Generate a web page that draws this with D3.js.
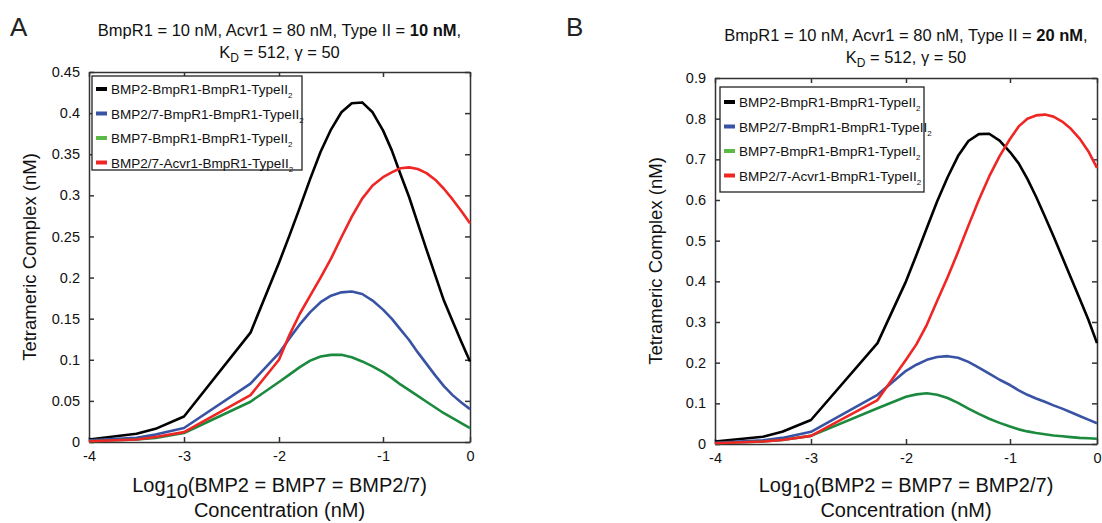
<!DOCTYPE html>
<html>
<head>
    <meta charset="utf-8">
    <title>Tetrameric Complex</title>
    <script src="https://d3js.org/d3.v7.min.js"></script>
    <style>
        body { margin: 0; background: #fff; }
        svg { font-family: "Liberation Sans", Arial, sans-serif; }
        .axis path, .axis line { stroke: #333; stroke-width: 1.5; }
        .axis text { font-size: 14.5px; fill: #111; }
    </style>
</head>
<body>
    <svg id="chart"></svg>

    <script>
        // log10 concentration grid (shared by both panels)
        const logConc = [-4, -3.5, -3.3, -3, -2.3, -2, -1.9, -1.8, -1.7, -1.6, -1.5, -1.4, -1.3, -1.2,
                         -1.1, -1.0, -0.9, -0.8, -0.7, -0.6, -0.5, -0.4, -0.3, -0.2, -0.1, 0];

        const seriesNames = ["BMP2-BmpR1-BmpR1-TypeII", "BMP2/7-BmpR1-BmpR1-TypeII",
                             "BMP7-BmpR1-BmpR1-TypeII", "BMP2/7-Acvr1-BmpR1-TypeII"];
        const lineColors = ["#000000", "#3953a4", "#1b8a3e", "#ee2624"];
        const legendColors = ["#000000", "#3953a4", "#5cb947", "#ee2624"];

        // panel A: Type II = 10 nM
        const blackA = [0.003, 0.010, 0.016, 0.031, 0.133, 0.218, 0.251, 0.285, 0.320, 0.353, 0.380, 0.401, 0.412, 0.413,
                        0.401, 0.379, 0.355, 0.326, 0.298, 0.266, 0.234, 0.203, 0.172, 0.147, 0.122, 0.098];
        const blueA  = [0.002, 0.005, 0.009, 0.017, 0.071, 0.108, 0.126, 0.143, 0.158, 0.170, 0.178, 0.182, 0.183, 0.180,
                        0.172, 0.161, 0.150, 0.137, 0.124, 0.109, 0.095, 0.081, 0.068, 0.057, 0.048, 0.040];
        const greenA = [0.001, 0.003, 0.005, 0.011, 0.049, 0.073, 0.082, 0.091, 0.099, 0.104, 0.106, 0.106, 0.103, 0.098,
                        0.092, 0.085, 0.078, 0.070, 0.063, 0.056, 0.049, 0.042, 0.035, 0.029, 0.023, 0.017];
        const redA   = [0.001, 0.003, 0.006, 0.012, 0.057, 0.100, 0.130, 0.156, 0.178, 0.200, 0.223, 0.249, 0.274, 0.296,
                        0.312, 0.322, 0.328, 0.333, 0.334, 0.332, 0.327, 0.319, 0.308, 0.295, 0.281, 0.266];

        // panel B: Type II = 20 nM
        const blackB = [0.006, 0.018, 0.030, 0.059, 0.248, 0.400, 0.465, 0.531, 0.597, 0.656, 0.708, 0.745, 0.762, 0.763,
                        0.746, 0.718, 0.690, 0.652, 0.608, 0.560, 0.511, 0.460, 0.409, 0.358, 0.306, 0.248];
        const blueB  = [0.003, 0.009, 0.015, 0.030, 0.121, 0.180, 0.195, 0.207, 0.214, 0.216, 0.212, 0.202, 0.188, 0.173,
                        0.158, 0.145, 0.132, 0.121, 0.112, 0.104, 0.095, 0.087, 0.078, 0.069, 0.060, 0.051];
        const greenB = [0.002, 0.006, 0.010, 0.020, 0.088, 0.116, 0.122, 0.125, 0.121, 0.113, 0.101, 0.087, 0.074, 0.062,
                        0.052, 0.043, 0.036, 0.031, 0.027, 0.024, 0.021, 0.019, 0.017, 0.015, 0.014, 0.013];
        const redB   = [0.002, 0.006, 0.010, 0.020, 0.108, 0.207, 0.245, 0.293, 0.352, 0.410, 0.472, 0.537, 0.600, 0.658,
                        0.708, 0.750, 0.781, 0.800, 0.808, 0.810, 0.805, 0.793, 0.775, 0.751, 0.720, 0.679];

        const xTicks = [-4, -3, -2, -1, 0];
        const yTicksA = [0, 0.05, 0.1, 0.15, 0.2, 0.25, 0.3, 0.35, 0.4, 0.45];
        const yTicksB = [0, 0.1, 0.2, 0.3, 0.4, 0.5, 0.6, 0.7, 0.8, 0.9];

        const width = 1102;
        const height = 523;

        const svg = d3.select("#chart")
            .attr("width", width)
            .attr("height", height);

        const panels = [
            { letter: "A", typeII: "10 nM", series: [blackA, blueA, greenA, redA], yTicks: yTicksA, yMax: 0.45,
              xRange: [89, 184, 279, 383, 470], yRange: [442, 72], letterX: 10, titleY: 36,
              legend: { x: 92, y: 76, w: 210, h: 94, rowY: 13, step: 24.5 } },
            { letter: "B", typeII: "20 nM", series: [blackB, blueB, greenB, redB], yTicks: yTicksB, yMax: 0.9,
              xRange: [715, 811, 906, 1010, 1097], yRange: [444, 78], letterX: 566, titleY: 41,
              legend: { x: 720, y: 87, w: 204, h: 105, rowY: 15, step: 24.5 } }
        ];

        panels.forEach(p => {
            const g = svg.append("g");

            // the figure's tick spacing is slightly uneven, so map tick to tick
            const x = d3.scaleLinear().domain(xTicks).range(p.xRange);
            const y = d3.scaleLinear().domain([0, p.yMax]).range(p.yRange);
            const [x0, x1] = [p.xRange[0], p.xRange[4]];
            const [y0, y1] = p.yRange;
            const fmt = d => d3.format("")(+d.toFixed(2));

            // axes, ticks pointing inward
            g.append("g").attr("class", "axis")
                .attr("transform", `translate(0,${y0})`)
                .call(d3.axisBottom(x).tickValues(xTicks).tickSize(-5).tickSizeOuter(0).tickPadding(9))
                .call(a => a.selectAll("text").text(d => d));
            g.append("g").attr("class", "axis")
                .attr("transform", `translate(0,${y1})`)
                .call(d3.axisTop(x).tickValues(xTicks).tickSize(-5).tickSizeOuter(0).tickFormat(""));
            g.append("g").attr("class", "axis")
                .attr("transform", `translate(${x0},0)`)
                .call(d3.axisLeft(y).tickValues(p.yTicks).tickSize(-5).tickSizeOuter(0).tickPadding(9).tickFormat(fmt));
            g.append("g").attr("class", "axis")
                .attr("transform", `translate(${x1},0)`)
                .call(d3.axisRight(y).tickValues(p.yTicks).tickSize(-5).tickSizeOuter(0).tickFormat(""));

            // curves
            const line = d3.line()
                .x((d, i) => x(logConc[i]))
                .y(d => y(d));
            p.series.forEach((s, i) => {
                g.append("path")
                    .datum(s)
                    .attr("fill", "none")
                    .attr("stroke", lineColors[i])
                    .attr("stroke-width", 2.6)
                    .attr("stroke-linejoin", "round")
                    .attr("d", line);
            });

            // legend
            const L = p.legend;
            const lg = g.append("g").attr("transform", `translate(${L.x},${L.y})`);
            lg.append("rect")
                .attr("width", L.w).attr("height", L.h)
                .attr("fill", "#fff").attr("stroke", "#222").attr("stroke-width", 1.3);
            seriesNames.forEach((name, i) => {
                const ry = L.rowY + i * L.step;
                lg.append("line")
                    .attr("x1", 4).attr("x2", 15).attr("y1", ry).attr("y2", ry)
                    .attr("stroke", legendColors[i]).attr("stroke-width", 4);
                const t = lg.append("text")
                    .attr("x", 19).attr("y", ry + 5)
                    .attr("font-size", "13.5px").attr("fill", "#111");
                t.append("tspan").text(name);
                t.append("tspan").attr("dy", 4).attr("font-size", "8px").text("2");
            });

            // panel letter
            g.append("text")
                .attr("x", p.letterX).attr("y", 36)
                .attr("font-size", "26px").attr("fill", "#222")
                .text(p.letter);

            // title
            const cx = (x0 + x1) / 2;
            const t1 = g.append("text")
                .attr("x", cx).attr("y", p.titleY)
                .attr("text-anchor", "middle").attr("font-size", "16.5px").attr("fill", "#111");
            t1.append("tspan").text("BmpR1 = 10 nM, Acvr1 = 80 nM, Type II = ");
            t1.append("tspan").attr("font-weight", "bold").text(p.typeII);
            t1.append("tspan").text(",");
            const t2 = g.append("text")
                .attr("x", cx).attr("y", p.titleY + 22)
                .attr("text-anchor", "middle").attr("font-size", "16.5px").attr("fill", "#111");
            t2.append("tspan").text("K");
            t2.append("tspan").attr("dy", 4).attr("font-size", "12px").text("D");
            t2.append("tspan").attr("dy", -4).text(" = 512, \u03b3 = 50");

            // y-axis label
            g.append("text")
                .attr("transform", `translate(${x0 - 53},${(y0 + y1) / 2}) rotate(-90)`)
                .attr("text-anchor", "middle").attr("font-size", "18.5px").attr("fill", "#111")
                .text("Tetrameric Complex (nM)");

            // x-axis label
            const xl = g.append("text")
                .attr("x", cx).attr("y", 492)
                .attr("text-anchor", "middle").attr("font-size", "20px").attr("fill", "#111");
            xl.append("tspan").text("Log");
            xl.append("tspan").attr("dy", 6).text("10");
            xl.append("tspan").attr("dy", -6).text("(BMP2 = BMP7 = BMP2/7)");
            g.append("text")
                .attr("x", cx).attr("y", 517)
                .attr("text-anchor", "middle").attr("font-size", "20px").attr("fill", "#111")
                .text("Concentration (nM)");
        });
    </script>
</body>
</html>
